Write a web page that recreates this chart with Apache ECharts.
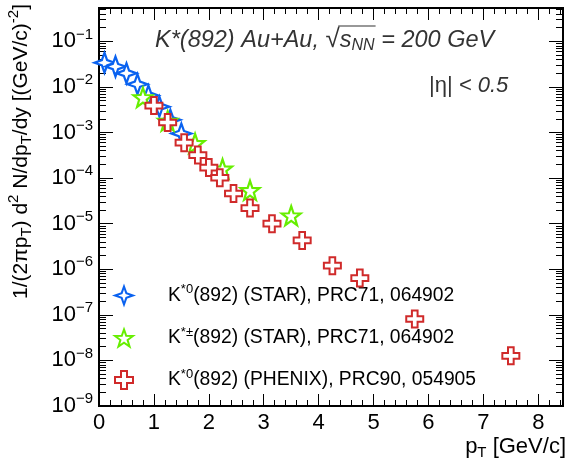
<!DOCTYPE html>
<html><head><meta charset="utf-8">
<script src="https://cdn.jsdelivr.net/npm/echarts@6/dist/echarts.min.js"></script>
<style>html,body{margin:0;padding:0;background:#fff}#c{width:568px;height:461px}</style>
</head><body><div id="c"></div>
<script>
// ---- data ----
const xTicks = [0,1,2,3,4,5,6,7,8];
const yTicks = [1e-9,1e-8,1e-7,1e-6,1e-5,1e-4,1e-3,1e-2,1e-1];
const seriesNames = ['K*0(892) (STAR), PRC71, 064902','K*±(892) (STAR), PRC71, 064902','K*0(892) (PHENIX), PRC90, 054905'];
const xStarK0 = [0.1,0.3,0.5,0.7,0.9,1.1,1.3,1.5];
const yStarK0 = [0.034,0.028,0.020,0.0115,0.0065,0.0037,0.0019,0.00095];
const xStarKpm = [0.8,1.25,1.75,2.25,2.75,3.5];
const yStarKpm = [0.0059,0.0018,0.00058,0.00016,5.4e-5,1.5e-5];
const xPhenix = [1.0,1.25,1.55,1.8,2.0,2.2,2.45,2.75,3.15,3.7,4.25,4.75,5.75,7.5];
const yPhenix = [0.0039,0.00166,0.0006,0.00032,0.00017,0.000102,4.6e-5,2.2e-5,1.0e-5,4.3e-6,1.2e-6,6.4e-7,8.1e-8,1.26e-8];

const XMIN=0, XMAX=8.45, YMIN=1e-9, YMAX=0.54;
const xMinor=[]; for(let i=1;i<=42;i++){ if(i%5) xMinor.push(+(i*0.2).toFixed(2)); }
const yMinor=[]; for(let e=-9;e<=-1;e++){ for(let m=2;m<=9;m++){ const v=m*Math.pow(10,e); if(v<=YMAX) yMinor.push(v);} }

const FONT='"Liberation Sans", Arial, Helvetica, sans-serif';
const zip=(a,b)=>a.map((v,i)=>[v,b[i]]);
const pStar4='path://M0,-10 L2.6,-2.6 L10,0 L2.6,2.6 L0,10 L-2.6,2.6 L-10,0 L-2.6,-2.6 Z';
let s5='path://'; for(let i=0;i<10;i++){const r=i%2?4:10;const a=-Math.PI/2+i*Math.PI/5; s5+=(i?'L':'M')+(r*Math.cos(a)).toFixed(2)+','+(r*Math.sin(a)).toFixed(2)+' ';} s5+='Z';
const pCross='path://M-3,-9 L3,-9 L3,-3 L9,-3 L9,3 L3,3 L3,9 L-3,9 L-3,3 L-9,3 L-9,-3 L-3,-3 Z';

const line={show:true,onZero:false,lineStyle:{color:'#000',width:2}};
function xAx(pos,major){return {type:'value',min:XMIN,max:XMAX,position:pos,axisLine:line,splitLine:{show:false},
  axisTick:{show:true,inside:true,length:major?12:6,lineStyle:{color:'#000',width:1},customValues:major?xTicks:xMinor},
  axisLabel:{show:major&&pos==='bottom',customValues:xTicks,fontFamily:FONT,fontSize:22,color:'#000',margin:6}};}
function yAx(pos,major){return {type:'log',logBase:10,min:YMIN,max:YMAX,position:pos,axisLine:line,splitLine:{show:false},
  axisTick:{show:true,inside:true,length:major?14:7,lineStyle:{color:'#000',width:1},customValues:major?yTicks:yMinor},
  axisLabel:{show:major&&pos==='left',customValues:yTicks,margin:6,
    formatter:v=>'{b|10}{s|−'+(-Math.round(Math.log10(v)))+'}',
    rich:{b:{fontFamily:FONT,fontSize:22,color:'#000'},s:{fontFamily:FONT,fontSize:15,color:'#000',padding:[0,0,14,0]}}}};}

// text measurement for the sqrt overline
const cv=document.createElement('canvas').getContext('2d');
function tw(t,f){cv.font=f;return cv.measureText(t).width;}
const TFS=23.5, TX=155, TY=40;
const fI='italic '+TFS+'px '+FONT, fR='26px '+FONT, fS='italic 16px '+FONT;
const w1=tw('K*(892) Au+Au, ',fI), wr=tw('√',fR), ws=tw('s',fI), wn=tw('NN',fS);
const olX1=TX+w1+wr-1.5, olX2=TX+w1+wr+ws+wn+1;

const chart=echarts.init(document.getElementById('c'),null,{renderer:'canvas'});
const supMap={0:'{t|K}{p|*0}{t|(892) (STAR), PRC71, 064902}',1:'{t|K}{p|*±}{t|(892) (STAR), PRC71, 064902}',2:'{t|K}{p|*0}{t|(892) (PHENIX), PRC90, 054905}'};
chart.setOption({
  animation:false,
  grid:{left:99,right:5,top:8,bottom:55,containLabel:false},
  xAxis:[xAx('bottom',true),xAx('bottom',false),xAx('top',true),xAx('top',false)],
  yAxis:[yAx('left',true),yAx('left',false),yAx('right',true),yAx('right',false)],
  legend:{orient:'vertical',left:109,top:278,itemWidth:18,itemHeight:18,itemGap:20,
    data:seriesNames,
    formatter:n=>supMap[seriesNames.indexOf(n)],
    textStyle:{rich:{t:{fontFamily:FONT,fontSize:19.3,color:'#000'},p:{fontFamily:FONT,fontSize:13,color:'#000',padding:[0,0,12,0]}},padding:[0,0,0,30]}},
  series:[
    {name:seriesNames[0],type:'scatter',data:zip(xStarK0,yStarK0),symbol:pStar4,symbolSize:20,z:2,
      itemStyle:{color:'#fff',borderColor:'#0a62f0',borderWidth:2.2,opacity:1}},
    {name:seriesNames[1],type:'scatter',data:zip(xStarKpm,yStarKpm),symbol:s5,symbolSize:19,z:3,
      itemStyle:{color:'#fff',borderColor:'#66ee00',borderWidth:2.2,opacity:1}},
    {name:seriesNames[2],type:'scatter',data:zip(xPhenix,yPhenix),symbol:pCross,symbolSize:17,z:4,
      itemStyle:{color:'#fff',borderColor:'#d02a2a',borderWidth:2,opacity:1}}
  ],
  graphic:[
    {type:'text',x:21,y:4,rotation:Math.PI/2,style:{text:'{m|1/(2πp}{b|T}{m|) d}{p|2}{m| N/dp}{b|T}{m|/dy [(GeV/c)}{p|-2}{m|]}',align:'right',verticalAlign:'middle',
      rich:{m:{fontFamily:FONT,fontSize:21,fill:'#000'},b:{fontFamily:FONT,fontSize:15,fill:'#000',padding:[12,0,0,0]},p:{fontFamily:FONT,fontSize:15,fill:'#000',padding:[0,0,14,0]}}}},
    {type:'text',x:566,y:447,style:{text:'{m|p}{b|T}{m| [GeV/c]}',align:'right',verticalAlign:'middle',
      rich:{m:{fontFamily:FONT,fontSize:22,fill:'#000'},b:{fontFamily:FONT,fontSize:15,fill:'#000',padding:[12,0,0,0]}}}},
    {type:'text',x:TX,y:TY,style:{text:'{m|K*(892) Au+Au, }{r|√}{m|s}{b|NN}{m| = 200 GeV}',align:'left',verticalAlign:'middle',
      rich:{m:{fontFamily:FONT,fontSize:TFS,fontStyle:'italic',fill:'#333'},r:{fontFamily:FONT,fontSize:26,fill:'#333'},b:{fontFamily:FONT,fontSize:16,fontStyle:'italic',fill:'#333',padding:[12,0,0,0]}}}},
    {type:'line',shape:{x1:olX1,y1:26,x2:olX2,y2:26},style:{stroke:'#333',lineWidth:1.2}},
    {type:'text',x:429,y:86,style:{text:'{m||η|}{i| < 0.5}',align:'left',verticalAlign:'middle',
      rich:{m:{fontFamily:FONT,fontSize:22,fill:'#333'},i:{fontFamily:FONT,fontSize:22,fontStyle:'italic',fill:'#333'}}}}
  ]
});
</script></body></html>
